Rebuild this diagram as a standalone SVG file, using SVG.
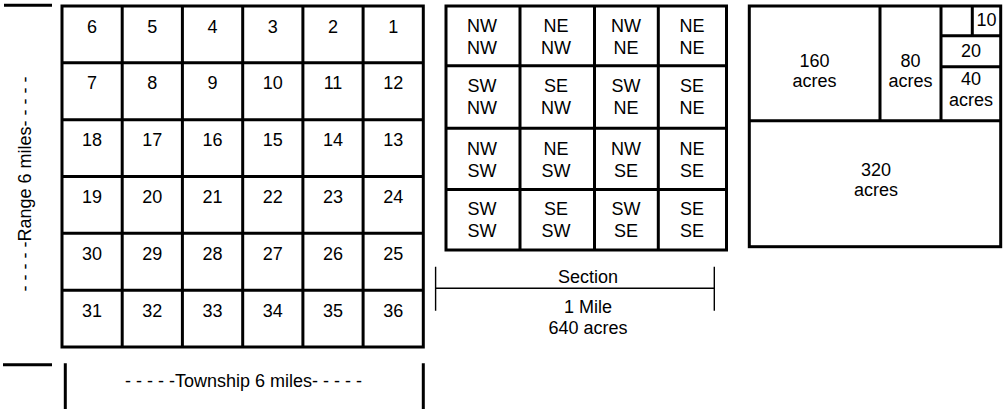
<svg xmlns="http://www.w3.org/2000/svg" width="1005" height="409" viewBox="0 0 1005 409">
<style>
text{font-family:"Liberation Sans",Arial,sans-serif;font-size:18px;fill:#000;text-anchor:middle}
.g{fill:none;stroke:#000;stroke-width:3}
.t{fill:none;stroke:#000;stroke-width:1.4}
</style>
<rect width="1005" height="409" fill="#fff"/>
<g id="township">
<rect class="g" x="62" y="6" width="361.3" height="341"/>
<path class="g" d="M122.2 6V347M182.4 6V347M242.7 6V347M302.9 6V347M363.1 6V347M62 62.8H423.3M62 119.7H423.3M62 176.5H423.3M62 233.3H423.3M62 290.2H423.3"/>
<text x="92" y="32.5">6</text><text x="152.3" y="32.5">5</text><text x="212.5" y="32.5">4</text><text x="272.8" y="32.5">3</text><text x="333" y="32.5">2</text><text x="393.2" y="32.5">1</text>
<text x="92" y="89.3">7</text><text x="152.3" y="89.3">8</text><text x="212.5" y="89.3">9</text><text x="272.8" y="89.3">10</text><text x="333" y="89.3">11</text><text x="393.2" y="89.3">12</text>
<text x="92" y="146.2">18</text><text x="152.3" y="146.2">17</text><text x="212.5" y="146.2">16</text><text x="272.8" y="146.2">15</text><text x="333" y="146.2">14</text><text x="393.2" y="146.2">13</text>
<text x="92" y="203">19</text><text x="152.3" y="203">20</text><text x="212.5" y="203">21</text><text x="272.8" y="203">22</text><text x="333" y="203">23</text><text x="393.2" y="203">24</text>
<text x="92" y="259.8">30</text><text x="152.3" y="259.8">29</text><text x="212.5" y="259.8">28</text><text x="272.8" y="259.8">27</text><text x="333" y="259.8">26</text><text x="393.2" y="259.8">25</text>
<text x="92" y="316.7">31</text><text x="152.3" y="316.7">32</text><text x="212.5" y="316.7">33</text><text x="272.8" y="316.7">34</text><text x="333" y="316.7">35</text><text x="393.2" y="316.7">36</text>
</g>
<g id="range-label">
<path class="g" d="M4 5.3H52"/>
<text transform="translate(30.5 184) rotate(-90)" x="0" y="0">- - - - -Range 6 miles- - - - -</text>
</g>
<g id="township-label">
<path class="g" d="M3 364.7H52M65.3 363.3V409M423.3 363.3V409"/>
<text x="243.5" y="387">- - - - -Township 6 miles- - - - -</text>
</g>
<g id="section">
<rect class="g" x="446" y="6" width="280.5" height="244"/>
<path class="g" d="M520 6V250M594.5 6V250M658.3 6V250M446 65.7H726.5M446 128.3H726.5M446 189.5H726.5"/>
<text x="482" y="32">NW</text><text x="482" y="54">NW</text>
<text x="556" y="32">NE</text><text x="556" y="54">NW</text>
<text x="626" y="32">NW</text><text x="626" y="54">NE</text>
<text x="692" y="32">NE</text><text x="692" y="54">NE</text>
<text x="482" y="92">SW</text><text x="482" y="114">NW</text>
<text x="556" y="92">SE</text><text x="556" y="114">NW</text>
<text x="626" y="92">SW</text><text x="626" y="114">NE</text>
<text x="692" y="92">SE</text><text x="692" y="114">NE</text>
<text x="482" y="155">NW</text><text x="482" y="176.7">SW</text>
<text x="556" y="155">NE</text><text x="556" y="176.7">SW</text>
<text x="626" y="155">NW</text><text x="626" y="176.7">SE</text>
<text x="692" y="155">NE</text><text x="692" y="176.7">SE</text>
<text x="482" y="215">SW</text><text x="482" y="236.7">SW</text>
<text x="556" y="215">SE</text><text x="556" y="236.7">SW</text>
<text x="626" y="215">SW</text><text x="626" y="236.7">SE</text>
<text x="692" y="215">SE</text><text x="692" y="236.7">SE</text>
</g>
<g id="section-scale">
<path class="t" d="M435.6 266.7V310.7M714.3 266.7V310.7M435.6 288.3H714.3"/>
<text x="588" y="283.3">Section</text>
<text x="588" y="313.3">1 Mile</text>
<text x="588" y="334.3">640 acres</text>
</g>
<g id="acres">
<rect class="g" x="749.3" y="6" width="251.4" height="240.7"/>
<path class="g" d="M749.3 120.7H1000.7M880 6V120.7M941 6V120.7M941 35.7H1000.7M941 66.7H1000.7M972.3 6V35.7"/>
<text x="814.5" y="66.7">160</text><text x="814.5" y="87.3">acres</text>
<text x="910.5" y="66.7">80</text><text x="910.5" y="87.3">acres</text>
<text x="986.5" y="26">10</text>
<text x="971" y="56.7">20</text>
<text x="971" y="85">40</text><text x="971" y="106">acres</text>
<text x="876" y="175.5">320</text><text x="876" y="196">acres</text>
</g>
</svg>
